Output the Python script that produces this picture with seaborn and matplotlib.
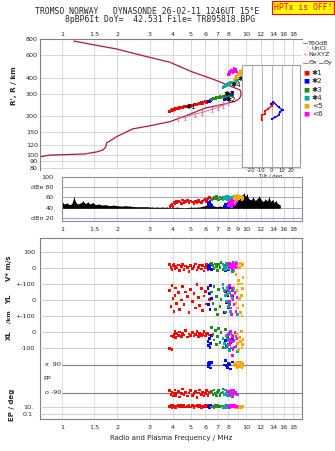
import matplotlib
matplotlib.use("Agg")
import matplotlib.pyplot as plt
from matplotlib.lines import Line2D
from matplotlib.ticker import NullLocator, NullFormatter
import numpy as np
import pandas as pd
import seaborn as sns

# ------------------------------------------------------------------ data
freq_ticks_top = [1, 1.5, 2, 3, 4, 5, 6, 7, 8, 10, 12, 14, 16, 18]
freq_ticks_mid = [1, 1.5, 2, 3, 4, 5, 6, 7, 8, 9, 10, 12, 14, 16, 18]
height_ticks = [80, 90, 100, 120, 150, 200, 300, 400, 600, 800]
tilt_ticks = [-20, -10, 0, 10, 20]
db_ticks = [20, 40, 60, 80, 100]
db_tick_labels = ["dBn 20", "40", "60", "dBe 80", "100"]

# model virtual height curve (MHz, km)
model_f = [0.75, 0.86, 1.0, 1.33, 1.54, 1.67, 1.73, 1.75, 1.82, 1.98, 2.43, 3.01,
           3.86, 4.66, 5.98, 7.69, 8.71, 9.2, 9.38, 9.35, 9.27, 8.36, 6.78, 5.07,
           3.86, 2.65, 1.98, 1.51, 1.16]
model_h = [96.5, 100, 100.6, 102, 105.7, 109.5, 116, 124.8, 128.6, 139, 160, 169,
           182, 201, 232, 250, 262, 275, 293, 310, 321, 340, 384, 445,
           527, 601, 669, 718, 771]

# NeXYZ profile with error bars
ne_f = [4.29, 4.66, 5.28, 5.75, 6.51, 7.07, 7.53, 8.01]
ne_h = [193, 197, 209, 214, 227, 235, 245, 255]
ne_err = [9, 9, 10, 10, 11, 11, 12, 12]

# tilt inset paths (deg, km)
tilt_red_x = [-9.8, -9.8, -6.5, -6.5, -3.2, 0.0, 1.8]
tilt_red_h = [187, 204, 210, 220, 230, 240, 250]
tilt_blue_x = [-0.5, 1.8, 7.0, 11.0, 8.5, 7.0, 3.5, 0.0]
tilt_blue_h = [250, 260, 236, 224, 218, 204, 196, 190]

# noise level (MHz, dB)
noise_f = [1.00, 1.03, 1.06, 1.10, 1.13, 1.16, 1.19, 1.22, 1.26, 1.30, 1.34, 1.38,
           1.42, 1.47, 1.52, 1.58, 1.65, 1.72, 1.80, 1.90, 2.0, 2.1, 2.2, 2.35,
           2.5, 2.7, 2.9, 3.1, 3.3, 3.5, 3.7, 3.9, 4.2, 4.6, 5.0, 5.5, 6.0, 6.2,
           6.4, 6.6, 6.9, 7.2, 7.6, 8.0, 8.4, 8.8, 9.2, 9.5, 9.7, 9.9, 10.1, 10.3,
           10.6, 10.9, 11.2, 11.5, 11.8, 12.1, 12.4, 12.7, 13.0, 13.3, 13.6, 13.9,
           14.2, 14.5, 14.8, 15.2]
noise_db = [52, 47, 49, 46, 48, 60, 50, 47, 49, 53, 48, 51,
            47, 50, 46, 47, 45, 46, 44, 45, 44, 43, 44, 43,
            42, 42, 42, 41, 41, 41, 41, 40, 41, 40, 41, 41, 44, 48,
            46, 44, 42, 43, 42, 44, 46, 52, 58, 64, 68, 62, 66, 58,
            55, 60, 54, 58, 62, 55, 52, 57, 53, 60, 52, 56,
            50, 54, 48, 46]

# echo groups: frequency, height, amplitude, V*, YL, XL, PP, EP
g1_f = [3.85, 3.9, 3.95, 4.0, 4.05, 4.1, 4.15, 4.2, 4.3, 4.35, 4.45, 4.5, 4.6, 4.7, 4.8,
        4.9, 5.0, 5.1, 5.2, 5.3, 5.4, 5.5, 5.6, 5.7, 5.8, 5.9, 6.0, 6.1, 6.2, 6.3]
g1_h = [218, 222, 225, 220, 228, 226, 230, 232, 229, 234, 236, 233, 238, 240, 237,
        242, 244, 241, 246, 248, 245, 250, 252, 255, 253, 258, 260, 257, 262, 264]
g1_db = [42, 44, 46, 43, 50, 48, 52, 49, 53, 51, 48, 55, 50, 52, 54,
         49, 53, 51, 47, 52, 50, 54, 51, 49, 53, 55, 57, 52, 58, 60]
g1_v = [20, 5, -10, 15, 25, -5, 10, 0, 18, -15, 8, 22, -8, 12, 3,
        -20, 16, -2, 10, 25, -12, 5, 18, -6, 14, -18, 2, 20, -10, 8]
g1_yl = [60, -40, 90, 10, -70, 30, 75, -20, 45, -60, 0, 85, -30, 50, 20,
         -80, 65, -10, 40, -50, 95, 15, -35, 70, -65, 25, 55, -25, 80, 5]
g1_xl = [-105, -25, -110, -30, -15, 5, -35, -10, -20, 0, -28, -8, -18, 8, -32,
         -12, -22, -3, -26, -14, 4, -30, -9, -20, -16, 2, -24, -11, -6, -19]
g1_pp = [-75, -100, -85, -110, -95, -70, -105, -90, -80, -115, -95, -65, -100, -85, -110,
         -90, -75, -105, -95, -80, -120, -90, -70, -100, -85, -110, -95, -75, -105, -88]
g1_ep = [15, 25, 8, 30, 12, 20, 6, 18, 35, 10, 22, 14, 28, 9, 16,
         40, 11, 24, 7, 19, 32, 13, 26, 5, 21, 17, 29, 12, 23, 15]

g2_f = [6.2, 6.25, 6.3, 6.35, 6.4, 6.5, 7.6, 7.7, 7.8, 7.9, 8.0, 8.1, 8.2, 8.4]
g2_h = [258, 262, 260, 265, 263, 268, 272, 280, 276, 290, 285, 298, 292, 305]
g2_db = [48, 50, 46, 52, 47, 44, 43, 46, 42, 45, 48, 44, 46, 43]
g2_v = [10, -5, 15, 0, 20, -10, 12, -18, 5, 25, -8, 15, 0, -12]
g2_yl = [70, -30, 40, -60, 90, 10, -80, 55, -15, 30, -45, 80, -70, 20]
g2_xl = [-60, -85, -40, -95, -70, -20, -100, -55, -90, -30, -75, -10, -65, -45]
g2_pp = [100, 80, 110, 95, 70, 105, 90, 120, 85, 75, 100, 95, 65, 110]
g2_ep = [12, 20, 8, 15, 25, 10, 18, 6, 22, 14, 30, 9, 16, 11]

g3_f = [6.5, 6.6, 6.7, 6.8, 6.9, 7.0, 7.1, 7.2, 7.3, 7.5, 7.7, 7.9, 8.1, 8.4]
g3_h = [272, 275, 278, 274, 280, 283, 279, 285, 282, 287, 284, 290, 288, 292]
g3_db = [56, 58, 60, 57, 62, 59, 55, 61, 58, 60, 57, 62, 59, 56]
g3_v = [30, 15, -5, 25, 10, -15, 20, 5, 35, -10, 15, 0, 25, -20]
g3_yl = [50, -20, 85, -60, 20, -90, 65, -40, 5, 75, -75, 35, -30, 60]
g3_xl = [30, -15, -50, 10, -80, -30, 20, -65, -5, -95, 15, -40, -110, -20]
g3_pp = [-80, -100, -70, -95, -110, -85, -75, -105, -90, -65, -100, -80, -95, -115]
g3_ep = [10, 18, 7, 25, 12, 30, 9, 15, 20, 6, 14, 22, 11, 17]

g4_f = [7.5, 7.6, 7.7, 7.8, 7.9, 8.0, 8.1, 8.2, 8.4, 8.6, 8.8, 9.0]
g4_h = [335, 340, 348, 345, 352, 360, 356, 365, 370, 362, 375, 380]
g4_db = [56, 60, 58, 62, 55, 59, 61, 57, 60, 63, 58, 56]
g4_v = [20, 5, -10, 30, 10, -5, 25, 0, 15, -15, 35, 5]
g4_yl = [95, 60, 30, -10, 80, -40, 45, -70, 10, 70, -25, -90]
g4_xl = [-40, -70, -100, -20, -85, -55, -115, -10, -60, -95, -30, -120]
g4_pp = [-85, -100, -70, -95, -110, -80, -90, -105, -75, -95, -85, -100]
g4_ep = [12, 8, 20, 15, 6, 25, 10, 18, 9, 30, 14, 7]

g5_f = [8.6, 8.7, 8.8, 8.9, 9.0, 9.1, 9.2, 9.3, 9.4, 9.5, 9.55, 9.6]
g5_h = [380, 395, 410, 400, 420, 435, 425, 445, 440, 455, 430, 460]
g5_db = [58, 62, 56, 64, 60, 57, 63, 59, 61, 55, 60, 58]
g5_v = [35, 25, -40, 30, 10, -80, 5, 28, -100, 12, 22, -60]
g5_yl = [80, 40, -20, 60, -50, 100, 10, -80, 30, -100, 70, -35]
g5_xl = [-20, -50, -90, -10, -70, -110, -35, -60, 5, -100, -80, -45]
g5_pp = [95, 85, 100, 75, 110, 90, 80, 105, 95, 70, 100, 85]
g5_ep = [10, 6, 15, 8, 12, 20, 7, 9, 14, 5, 11, 18]

g6_f = [8.0, 8.1, 8.15, 8.2, 8.3, 8.35, 8.4, 8.5, 8.6, 8.7, 8.8, 8.9]
g6_h = [425, 440, 432, 450, 445, 460, 455, 438, 470, 448, 465, 442]
g6_db = [44, 48, 52, 46, 55, 42, 50, 47, 53, 45, 49, 51]
g6_v = [20, 10, 30, 0, 15, 25, -5, 35, 10, 20, 5, 28]
g6_yl = [60, -10, 90, -50, 30, -90, 75, 0, -30, 45, -70, 15]
g6_xl = [-15, -45, -80, 5, -60, -100, -30, -110, -55, -5, -90, -40]
g6_pp = [-80, -95, -100, -85, -70, -90, 150, -105, -75, -95, -85, -100]
g6_ep = [12, 20, 8, 15, 25, 10, 18, 30, 9, 22, 14, 16]

group_names = ["✱1", "✱2", "✱3", "✱4", "<5", "<6"]
group_colors = ["#FF0000", "#0000FF", "#228B22", "#00A8A8", "#FFA500", "#FF00FF"]

# ------------------------------------------------------------------ frame
groups = [
    (g1_f, g1_h, g1_db, g1_v, g1_yl, g1_xl, g1_pp, g1_ep),
    (g2_f, g2_h, g2_db, g2_v, g2_yl, g2_xl, g2_pp, g2_ep),
    (g3_f, g3_h, g3_db, g3_v, g3_yl, g3_xl, g3_pp, g3_ep),
    (g4_f, g4_h, g4_db, g4_v, g4_yl, g4_xl, g4_pp, g4_ep),
    (g5_f, g5_h, g5_db, g5_v, g5_yl, g5_xl, g5_pp, g5_ep),
    (g6_f, g6_h, g6_db, g6_v, g6_yl, g6_xl, g6_pp, g6_ep),
]
frames = []
for name, g in zip(group_names, groups):
    frames.append(pd.DataFrame({"f": g[0], "h": g[1], "db": g[2], "v": g[3],
                                "yl": g[4], "xl": g[5], "pp": g[6], "ep": g[7],
                                "group": name}))
echoes = pd.concat(frames, ignore_index=True)
palette = dict(zip(group_names, group_colors))

# ------------------------------------------------------------------ style
sns.set_theme(style="white")
plt.rcParams["font.family"] = ["DejaVu Sans"]
plt.rcParams["axes.linewidth"] = 0.8

W, H = 335, 451
fig = plt.figure(figsize=(W / 100, H / 100), dpi=100)


def rect(x0, y0, x1, y1):
    return [x0 / W, 1 - y1 / H, (x1 - x0) / W, (y1 - y0) / H]


def fx(x):
    return x / W


def fy(y):
    return 1 - y / H


TICK_FS = 4.6
GRID = "#D0D0D0"
FRAME = "#808080"
CRIMSON = "#B0153E"
PINK = "#E0708C"
F_LIM = (0.76, 20.1)
MS = 3.6


def no_minor(ax, axis="both"):
    if axis in ("x", "both"):
        ax.xaxis.set_minor_locator(NullLocator())
        ax.xaxis.set_minor_formatter(NullFormatter())
    if axis in ("y", "both"):
        ax.yaxis.set_minor_locator(NullLocator())
        ax.yaxis.set_minor_formatter(NullFormatter())


def scatter(ax, y):
    sns.scatterplot(data=echoes, x="f", y=y, hue="group", palette=palette,
                    marker="s", s=MS, linewidth=0, legend=False, ax=ax, zorder=5)
    ax.set_xlabel("")
    ax.set_ylabel("")


# ------------------------------------------------------------------ top panel
ax_top = fig.add_axes(rect(40, 39, 302, 170))
ax_top.set_xscale("log")
ax_top.set_yscale("log")
ax_top.set_xlim(*F_LIM)
ax_top.set_ylim(76.5, 800)
for h in height_ticks:
    ax_top.axhline(h, color=GRID, lw=0.6, zorder=0)
for f in freq_ticks_top:
    ax_top.axvline(f, color=GRID, lw=0.6, zorder=0)
sns.lineplot(x=model_f, y=model_h, sort=False, estimator=None, color=CRIMSON,
             lw=0.9, ax=ax_top)
sns.lineplot(x=ne_f, y=ne_h, sort=False, estimator=None, color=PINK, lw=0.7, ax=ax_top)
ax_top.errorbar(ne_f, ne_h, yerr=ne_err, fmt="none", ecolor=PINK, elinewidth=0.6,
                capsize=1.0, capthick=0.6)
scatter(ax_top, "h")
for name, lf, lh in [("✱1", 5.0, 237), ("✱2", 8.3, 270), ("✱3", 8.05, 298),
                     ("✱4", 8.8, 350), ("✱5", 9.6, 388)]:
    ax_top.text(lf, lh, name, fontsize=5.2, ha="center", va="center", color="black",
                zorder=6)
ax_top.xaxis.tick_top()
ax_top.set_xticks(freq_ticks_top)
ax_top.set_xticklabels([f"{t:g}" for t in freq_ticks_top])
ax_top.set_yticks(height_ticks)
ax_top.set_yticklabels([str(t) for t in height_ticks])
no_minor(ax_top)
ax_top.tick_params(axis="both", length=0, labelsize=TICK_FS, pad=1.5)
for s in ["right", "bottom"]:
    ax_top.spines[s].set_visible(False)
for s in ["left", "top"]:
    ax_top.spines[s].set_color(FRAME)
ax_top.set_xlabel("")
ax_top.set_ylabel("")
fig.text(fx(14), fy(86), "R', R / km", rotation=90, ha="center", va="center",
         fontsize=5.2, fontweight="bold")

# ------------------------------------------------------------------ tilt inset
ax_tilt = fig.add_axes(rect(242, 65, 300, 167))
ax_tilt.set_facecolor("white")
ax_tilt.set_yscale("log")
ax_tilt.set_xlim(-29.5, 28.5)
ax_tilt.set_ylim(80.6, 502)
for t in tilt_ticks:
    ax_tilt.axvline(t, color="#A8A8C0", lw=0.6, zorder=0)
sns.lineplot(x=tilt_red_x, y=tilt_red_h, sort=False, estimator=None, color="#FF0000",
             lw=1.0, marker="s", markersize=1.6, markeredgewidth=0, ax=ax_tilt)
sns.lineplot(x=tilt_blue_x, y=tilt_blue_h, sort=False, estimator=None, color="#0000FF",
             lw=1.0, marker="s", markersize=1.6, markeredgewidth=0, ax=ax_tilt)
ax_tilt.set_xticks(tilt_ticks)
ax_tilt.set_xticklabels([str(t) for t in tilt_ticks])
ax_tilt.set_yticks([])
no_minor(ax_tilt)
ax_tilt.tick_params(axis="x", length=0, labelsize=3.8, pad=0.8)
ax_tilt.set_xlabel("Tilt / deg", fontsize=3.8, labelpad=0.3)
ax_tilt.set_ylabel("")
for s in ax_tilt.spines.values():
    s.set_color("#A0A0A0")
    s.set_linewidth(0.8)

# ------------------------------------------------------------------ amplitude panel
ax_db = fig.add_axes(rect(62, 177, 302, 221))
ax_db.set_xscale("log")
ax_db.set_xlim(1.0, F_LIM[1])
ax_db.set_ylim(14.1, 100)
for f in freq_ticks_mid:
    ax_db.axvline(f, color=GRID, lw=0.6, zorder=0)
for d in [40, 60, 80]:
    ax_db.axhline(d, color="#A8A8A8", lw=0.7, zorder=0)
ax_db.axhline(20, color="#A0A0E0", lw=0.8, zorder=0)
ax_db.fill_between(noise_f, 39, noise_db, color="black", lw=0, zorder=2)
ax_db.vlines(noise_f, 39, noise_db, color="black", lw=0.6, zorder=2)
scatter(ax_db, "db")
ax_db.set_xticks(freq_ticks_mid)
ax_db.set_xticklabels([f"{t:g}" for t in freq_ticks_mid])
ax_db.set_yticks(db_ticks)
ax_db.set_yticklabels(db_tick_labels)
no_minor(ax_db)
ax_db.tick_params(axis="x", length=0, labelsize=TICK_FS, pad=4)
ax_db.tick_params(axis="y", length=0, labelsize=TICK_FS, pad=6)
for s in ax_db.spines.values():
    s.set_color("#909090")

# ------------------------------------------------------------------ lower panel
LOW = (40, 238, 302, 419)


def lin_lim(zero_px, px_per_unit):
    return ((zero_px - LOW[3]) / px_per_unit, (zero_px - LOW[1]) / px_per_unit)


ax_v = fig.add_axes(rect(*LOW))
ax_v.set_xscale("log")
ax_v.set_xlim(*F_LIM)
overlays = []
for _ in range(4):
    a = fig.add_axes(rect(*LOW), sharex=ax_v)
    a.patch.set_visible(False)
    for s in a.spines.values():
        s.set_visible(False)
    overlays.append(a)
ax_yl, ax_xl, ax_pp, ax_ep = overlays

ax_v.set_ylim(*lin_lim(268, 0.16))
ax_yl.set_ylim(*lin_lim(300, 0.16))
ax_xl.set_ylim(*lin_lim(332, 0.16))
ax_pp.set_ylim(*lin_lim(379, 0.15556))
ax_ep.set_yscale("log")
ax_ep.set_ylim(10 * 10 ** ((407 - LOW[3]) / 3.5), 10 * 10 ** ((407 - LOW[1]) / 3.5))

for f in freq_ticks_mid:
    ax_v.axvline(f, color="#D8D8D8", lw=0.6, zorder=0)

row_ticks = [
    (ax_v, [100, 0], ["100", "0"], 3.5),
    (ax_yl, [100, 0, -100], ["+-100", "0", "+-100"], 3.5),
    (ax_xl, [0, -100], ["0", "-100"], 3.5),
    (ax_ep, [10, 0.1], ["10.", "0.1"], 5.0),
]
for a, ticks, labels, pad in row_ticks:
    for t in ticks:
        a.axhline(t, color="#C8C8C8", lw=0.6, zorder=0)
    a.set_yticks(ticks)
    a.set_yticklabels(labels)
    no_minor(a, "y")
    a.tick_params(axis="y", length=0, labelsize=TICK_FS, pad=pad)

ax_pp.set_yticks([])
no_minor(ax_pp, "y")
for t in [90, -90]:
    ax_pp.hlines(t, 1.0, F_LIM[1], color="#808080", lw=0.8, zorder=1)
fig.text(fx(61), fy(365), "x  90", ha="right", va="center", fontsize=TICK_FS)
fig.text(fx(61), fy(393), "o -90", ha="right", va="center", fontsize=TICK_FS)
fig.text(fx(43), fy(379), "PP", ha="left", va="center", fontsize=TICK_FS)

scatter(ax_v, "v")
scatter(ax_yl, "yl")
scatter(ax_xl, "xl")
scatter(ax_pp, "pp")
scatter(ax_ep, "ep")

for a in overlays:
    a.tick_params(axis="x", which="both", bottom=False, top=False,
                  labelbottom=False, labeltop=False)

ax_v.set_xticks(freq_ticks_top)
ax_v.set_xticklabels([f"{t:g}" for t in freq_ticks_top])
no_minor(ax_v, "x")
ax_v.tick_params(axis="x", length=0, labelsize=TICK_FS, pad=4)
for s in ax_v.spines.values():
    s.set_color(FRAME)
ax_v.set_xlabel("Radio and Plasma Frequency / MHz", fontsize=5.0, labelpad=4)

# row labels on the left
fig.text(fx(9), fy(268), "V* m/s", rotation=90, ha="center", va="center",
         fontsize=5.0, fontweight="bold")
fig.text(fx(9), fy(299), "YL", rotation=90, ha="center", va="center",
         fontsize=5.0, fontweight="bold")
fig.text(fx(9), fy(317), "/km", rotation=90, ha="center", va="center",
         fontsize=4.4, fontweight="bold")
fig.text(fx(9), fy(335), "XL", rotation=90, ha="center", va="center",
         fontsize=5.0, fontweight="bold")
fig.text(fx(12), fy(405), "EP / deg", rotation=90, ha="center", va="center",
         fontsize=5.0, fontweight="bold")

# ------------------------------------------------------------------ header
fig.text(fx(35), fy(12), "TROMSO NORWAY   DYNASONDE 26-02-11 1246UT 15°E",
         family="DejaVu Sans Mono", fontsize=5.9, ha="left", va="center")
fig.text(fx(65), fy(20), "8pBP6It DoY=  42.531 File= TR895818.BPG",
         family="DejaVu Sans Mono", fontsize=5.9, ha="left", va="center")
fig.text(fx(303), fy(7.5), "HPTx is OFF!", family="DejaVu Sans Mono", fontsize=5.9,
         color="#FF0000", ha="center", va="center",
         bbox=dict(boxstyle="square,pad=0.25", facecolor="#FFFF00",
                   edgecolor="#FF0000", linewidth=0.8))

# ------------------------------------------------------------------ legend
LEG_FS = 4.6
fig.add_artist(Line2D([fx(302.5), fx(307)], [fy(43.3), fy(43.3)], color="#909090",
                      lw=0.8, transform=fig.transFigure))
fig.text(fx(307.5), fy(43.3), "T60dB", fontsize=LEG_FS, ha="left", va="center")
fig.text(fx(307), fy(49), ".", fontsize=LEG_FS, ha="center", va="bottom")
fig.text(fx(312), fy(49), "UnCl", fontsize=LEG_FS, ha="left", va="center")
fig.text(fx(305), fy(55), "+", fontsize=LEG_FS, color=PINK, ha="center", va="center")
fig.text(fx(308), fy(55), "NeXYZ", fontsize=LEG_FS, ha="left", va="center")
fig.add_artist(Line2D([fx(302.5), fx(307.5)], [fy(62.5), fy(62.5)], color=PINK,
                      lw=0.8, transform=fig.transFigure))
fig.text(fx(308.5), fy(62.5), "Θx", fontsize=LEG_FS, ha="left", va="center")
fig.add_artist(Line2D([fx(318.5), fx(322.5)], [fy(62.5), fy(62.5)], color="#7070E0",
                      lw=0.8, transform=fig.transFigure))
fig.text(fx(323.5), fy(62.5), "Θy", fontsize=LEG_FS, ha="left", va="center")
for name, col, yy in zip(group_names, group_colors, [72.7, 81, 89.7, 98, 106, 114]):
    fig.text(fx(306.5), fy(yy), "■", color=col, fontsize=4.6, ha="center", va="center")
    fig.text(fx(312), fy(yy), name, fontsize=5.2, ha="left", va="center")

fig.savefig("out.png", dpi=100)
